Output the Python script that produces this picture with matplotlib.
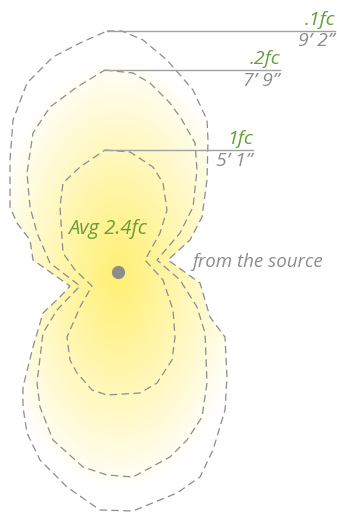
import numpy as np
import matplotlib
matplotlib.use("Agg")
from matplotlib import pyplot as plt
from matplotlib.patches import Polygon

# contour outlines (pixel space, y down)
outer_x = [107, 122, 143, 167, 193, 207, 208, 207, 202, 190, 168, 200, 210, 225, 227, 225, 213, 200, 177, 133, 100, 67, 40, 27, 23, 23, 33, 43, 60, 70, 33, 30, 17, 10, 10, 13, 27, 53, 80]
outer_y = [31, 31, 40, 60, 90, 120, 140, 180, 217, 240, 260, 283, 317, 337, 377, 410, 450, 477, 493, 511, 510, 487, 460, 433, 407, 387, 347, 313, 297, 286, 260, 240, 223, 207, 160, 120, 83, 57, 43]

mid_x = [105, 133, 150, 170, 182, 195, 197, 193, 180, 157, 180, 197, 205, 207, 202, 187, 170, 133, 107, 83, 53, 40, 37, 43, 57, 80, 50, 37, 30, 27, 33, 50, 77]
mid_y = [70, 73, 83, 103, 120, 143, 170, 207, 233, 260, 280, 307, 333, 383, 417, 440, 457, 477, 475, 467, 440, 407, 383, 333, 310, 286, 263, 233, 207, 173, 133, 107, 87]

inner_x = [105, 130, 153, 163, 167, 160, 145, 163, 173, 175, 172, 157, 140, 107, 92, 77, 70, 67, 80, 92, 75, 63, 60, 63, 80]
inner_y = [150, 152, 167, 183, 210, 233, 260, 280, 310, 337, 360, 383, 393, 395, 390, 373, 360, 337, 307, 286, 270, 253, 207, 183, 167]

levels = [".1fc", ".2fc", "1fc"]
distances = ["9\u2019 2\u201d", "7\u2019 9\u201d", "5\u2019 1\u201d"]
label_right = [335, 280, 253]

source_xy = (118, 272)
avg_label = "Avg 2.4fc"
note = "from the source"

green = "#6a9c3a"
grey = "#8c8c8c"

plt.rcParams['font.family'] = ['Open Sans', 'DejaVu Sans']

fig = plt.figure(figsize=(3.37, 5.14), dpi=100)
ax = fig.add_axes([0, 0, 1, 1])
ax.set_xlim(0, 337)
ax.set_ylim(514, 0)
ax.axis('off')

# yellow glow, clipped to the outer contour
gx, gy = np.meshgrid(np.arange(0, 337), np.arange(0, 514))
d = np.sqrt(((gx - 118) / 125.0) ** 2 + ((gy - 275) / 215.0) ** 2)
t = np.clip(1 - d, 0, 1) ** 0.9
yellow = np.array([1.0, 0.94, 0.45])
img = np.ones((514, 337, 3)) * (1 - t[..., None]) + yellow * t[..., None]
im = ax.imshow(img, extent=[0, 337, 514, 0], zorder=1, interpolation='bilinear')
clip = Polygon(np.column_stack([outer_x, outer_y]), closed=True, transform=ax.transData)
im.set_clip_path(clip)

contours = [(outer_x, outer_y), (mid_x, mid_y), (inner_x, inner_y)]
for (cx, cy), lev, dist, xr in zip(contours, levels, distances, label_right):
    ax.add_patch(Polygon(np.column_stack([cx, cy]), closed=True, fill=False,
                         edgecolor=grey, lw=0.9, linestyle=(0, (6, 3.5)), zorder=3))
    top = int(np.argmin(cy))
    ytop = cy[top]
    ax.plot([cx[top], xr], [ytop, ytop], color="#a0a0a0", lw=1.0, zorder=3)
    ax.text(xr, ytop - 2, lev, color=green, fontsize=14, style='italic',
            ha='right', va='bottom', zorder=4)
    ax.text(xr, ytop + 1.5, dist, color=grey, fontsize=14, style='italic',
            ha='right', va='top', zorder=4)

ax.plot(*source_xy, 'o', color=grey, markersize=8.5, zorder=5)
ax.text(108, 229, avg_label, color=green, fontsize=14.5, style='italic',
        ha='center', va='center', zorder=4)
ax.text(192, 262, note, color=grey, fontsize=13.5, style='italic',
        ha='left', va='center', zorder=4)

fig.savefig("out.png", dpi=100)
